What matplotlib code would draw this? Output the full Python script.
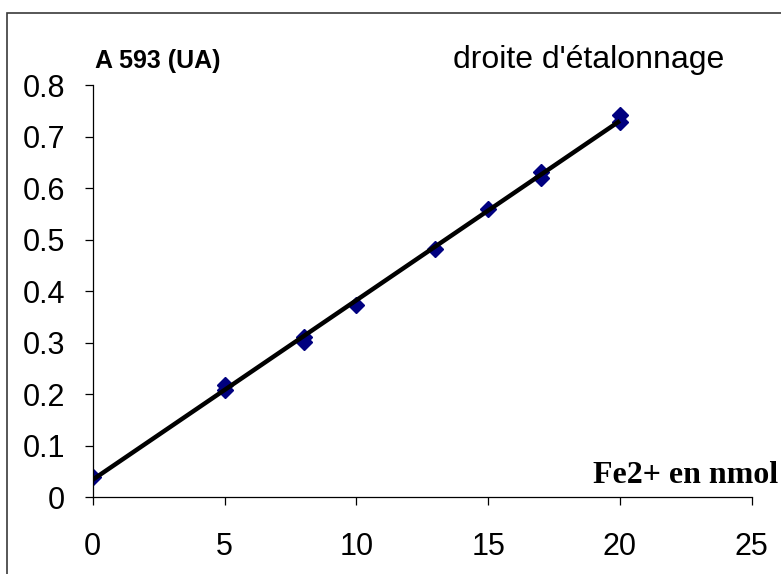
import numpy as np
import matplotlib
matplotlib.use("Agg")
import matplotlib.pyplot as plt
from matplotlib.patches import Rectangle

# calibration data: Fe2+ (nmol) vs absorbance at 593 nm
fe_nmol = [0, 5, 5, 8, 8, 10, 13, 15, 17, 17, 20, 20]
a593 = [0.039, 0.218, 0.209, 0.312, 0.302, 0.374, 0.482, 0.56, 0.632, 0.62, 0.742, 0.728]

x_ticks = [0, 5, 10, 15, 20, 25]
y_ticks = [0, 0.1, 0.2, 0.3, 0.4, 0.5, 0.6, 0.7, 0.8]
y_tick_labels = ["0", "0.1", "0.2", "0.3", "0.4", "0.5", "0.6", "0.7", "0.8"]

plt.rcParams['font.family'] = ['Liberation Sans', 'DejaVu Sans']

fig = plt.figure(figsize=(7.81, 5.74), dpi=100)
ax = fig.add_axes([0.1187, 0.1336, 0.8438, 0.7178])

# outer frame (only left and top edges visible in the image)
fig.patches.append(Rectangle((0.0086, -0.2), 1.5, 0.9768 + 0.2, transform=fig.transFigure,
                             fill=False, edgecolor='#3a3a3a', linewidth=1.2))

ax.plot(fe_nmol, a593, linestyle='none', marker='D', markersize=8,
        color='#000080', zorder=2)

# linear trend line
slope, intercept = np.polyfit(fe_nmol, a593, 1)
x_fit = np.array([min(fe_nmol), max(fe_nmol)])
ax.plot(x_fit, slope * x_fit + intercept, color='black', linewidth=3.2, zorder=3,
        solid_capstyle='butt')

ax.set_xlim(0, 25)
ax.set_ylim(0, 0.8)
ax.set_xticks(x_ticks)
ax.set_yticks(y_ticks)
ax.set_yticklabels(y_tick_labels)
ax.spines['top'].set_visible(False)
ax.spines['right'].set_visible(False)
for s in ('left', 'bottom'):
    ax.spines[s].set_linewidth(0.9)
ax.tick_params(axis='both', direction='out', length=6, width=0.9, labelsize=22)
ax.tick_params(axis='y', pad=14)
ax.tick_params(axis='x', pad=19)

fig.text(95 / 781, 1 - 68 / 574, "A 593 (UA)", fontsize=18, fontweight='bold',
         ha='left', va='baseline')
fig.text(453 / 781, 1 - 68 / 574, "droite d'étalonnage", fontsize=23,
         ha='left', va='baseline')
fig.text(593 / 781, 1 - 483 / 574, "Fe2+ en nmol", fontsize=23, fontweight='bold',
         family='Liberation Serif', ha='left', va='baseline')

fig.savefig("out.png", dpi=100)
